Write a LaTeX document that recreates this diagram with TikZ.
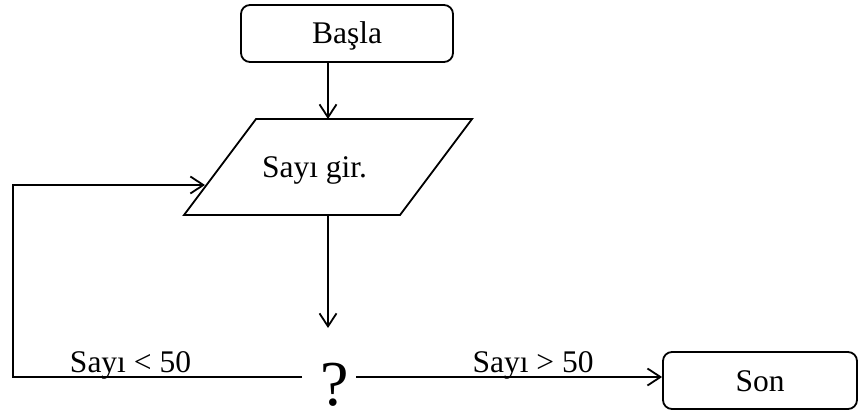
\documentclass[tikz,border=0pt]{standalone}
\usepackage{fontspec}
\setmainfont{Liberation Serif}
\usetikzlibrary{arrows.meta}
\begin{document}
\begin{tikzpicture}[x=1pt,y=-1pt, line width=1.8pt,
  every node/.style={font=\fontsize{31.5}{36}\selectfont},
  term/.style={draw, rounded corners=9pt, minimum width=212pt, minimum height=57pt, inner sep=0pt, text height=21pt, text depth=0pt},
  lbl/.style={anchor=base, inner sep=0pt},
  flow/.style={-{Straight Barb[length=13pt,width=17pt,line width=1.8pt]}}]
\useasboundingbox (0,0) rectangle (861,412);
% terminals
\node[term] (basla) at (347,33.5) {Başla};
\node[term, minimum width=194pt] (son) at (760,380.5) {Son};
% input parallelogram
\coordinate (pTL) at (256,119);
\coordinate (pTR) at (472,119);
\coordinate (pBR) at (400,215);
\coordinate (pBL) at (184,215);
\draw (pTL) -- (pTR) -- (pBR) -- (pBL) -- cycle;
\node[lbl] (giris) at (314.5,177) {Sayı gir.};
\coordinate (pTop) at (328,119);
\coordinate (pBot) at (328,215);
\coordinate (pLeft) at (205,185);
% decision
\node[lbl, font=\fontsize{64}{70}\selectfont] (q) at (335,405) {?};
\coordinate (qIn) at (328,328);
\coordinate (qL) at (302,377);
\coordinate (qR) at (356,377);
\coordinate (c1) at (13,377);
\coordinate (c2) at (13,185);
% connectors
\draw[flow] (basla.south -| pTop) -- (pTop);
\draw[flow] (pBot) -- (qIn);
\draw[flow] (qL) -- (c1) -- (c2) -- (pLeft);
\draw[flow] (qR) -- (son.west |- qR);
% labels
\node[lbl] (lt) at (130.5,372) {Sayı < 50};
\node[lbl] (gt) at (533,372) {Sayı > 50};
\end{tikzpicture}
\end{document}
